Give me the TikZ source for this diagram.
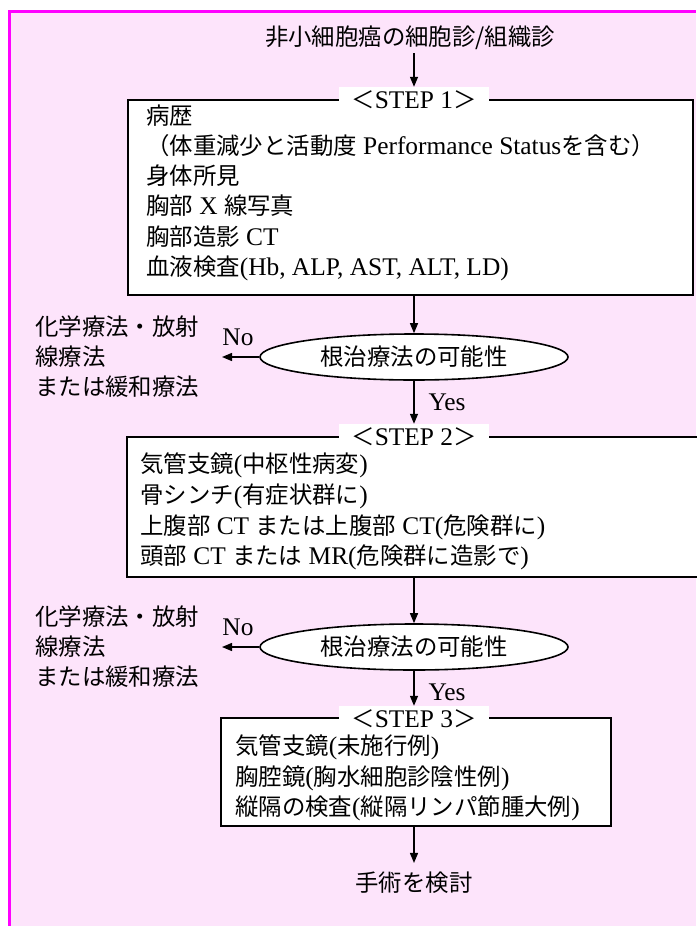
\documentclass[tikz,border=0pt]{standalone}
\usepackage{fontspec}
\setmainfont{Liberation Serif}
\newfontfamily\jpfont{Noto Sans CJK JP}
\newcommand\J[1]{{\jpfont\fontsize{23.4}{30}\selectfont #1}}
\usetikzlibrary{arrows.meta,shapes.geometric}
\definecolor{bgpink}{HTML}{FDE4FB}
\definecolor{framemag}{HTML}{FF00FF}
\begin{document}
\begin{tikzpicture}[x=1pt,y=-1pt,
  every node/.style={font=\fontsize{25.4}{30}\selectfont, inner sep=0pt},
  box/.style={draw=black, line width=1.6pt, fill=white},
  lbl/.style={fill=white, inner xsep=12pt, inner ysep=1pt, minimum height=26pt},
  ln/.style={anchor=west},
  arr/.style={line width=1.3pt, -{Triangle[length=10pt,width=8pt]}},
  dec/.style={ellipse, draw, line width=1.6pt, fill=white, minimum width=308pt, minimum height=46pt}]
\useasboundingbox (0,0) rectangle (696,926);
\fill[bgpink] (8,10) rectangle (696,926);
\draw[framemag, line width=3pt] (9.5,926) -- (9.5,11.5) -- (696,11.5);

% top
\node (top) at (410,38) {\J{非小細胞癌の細胞診/組織診}};

% STEP 1
\node[box, minimum width=565pt, minimum height=195pt] (s1) at (410.5,197.5) {};
\node[lbl] (l1) at (414,100) {\J{＜}STEP 1\J{＞}};
\node[ln] (a1) at (146,116) {\J{病歴}};
\node[ln] (a2) at (146,146) {\J{（体重減少と活動度} Performance Status\J{を含む）}};
\node[ln] (a3) at (146,176) {\J{身体所見}};
\node[ln] (a4) at (146,206) {\J{胸部} X \J{線写真}};
\node[ln] (a5) at (146,237) {\J{胸部造影} CT};
\node[ln] (a6) at (146,268) {\J{血液検査}(Hb, ALP, AST, ALT, LD)};

% decision 1
\node[dec] (e1) at (414,357) {\J{根治療法の可能性}};
\coordinate (n1end) at (222,357);
\node[anchor=west, align=left] (t1) at (35,357) {\J{化学療法・放射}\\\J{線療法}\\\J{または緩和療法}};
\node (no1) at (238,337) {No};
\node (yes1) at (447,402) {Yes};

% STEP 2
\node[box, minimum width=575pt, minimum height=140pt] (s2) at (414.5,507) {};
\node[lbl] (l2) at (414,437) {\J{＜}STEP 2\J{＞}};
\node[ln] (b1) at (140,465) {\J{気管支鏡}(\J{中枢性病変})};
\node[ln] (b2) at (140,496) {\J{骨シンチ}(\J{有症状群に})};
\node[ln] (b3) at (140,527) {\J{上腹部} CT \J{または上腹部} CT(\J{危険群に})};
\node[ln] (b4) at (140,557) {\J{頭部} CT \J{または} MR(\J{危険群に造影で})};

% decision 2
\node[dec] (e2) at (414,647) {\J{根治療法の可能性}};
\coordinate (n2end) at (222,647);
\node[anchor=west, align=left] (t2) at (35,647) {\J{化学療法・放射}\\\J{線療法}\\\J{または緩和療法}};
\node (no2) at (238,627) {No};
\node (yes2) at (447,692) {Yes};

% STEP 3
\node[box, minimum width=390pt, minimum height=108pt] (s3) at (416,772) {};
\node[lbl] (l3) at (414,719) {\J{＜}STEP 3\J{＞}};
\node[ln] (c1) at (235,747) {\J{気管支鏡}(\J{未施行例})};
\node[ln] (c2) at (235,778) {\J{胸腔鏡}(\J{胸水細胞診陰性例})};
\node[ln] (c3) at (235,808) {\J{縦隔の検査}(\J{縦隔リンパ節腫大例})};

% end
\node (fin) at (414,883) {\J{手術を検討}};

% connectors
\draw[arr] (top.south -| l1.north) ++(0,3) -- (l1.north);
\draw[arr] (s1.south -| e1.north) -- (e1.north);
\draw[arr] (e1.west) -- (n1end);
\draw[arr] (e1.south) -- (l2.north);
\draw[arr] (s2.south -| e2.north) -- (e2.north);
\draw[arr] (e2.west) -- (n2end);
\draw[arr] (e2.south) -- (l3.north);
\draw[arr] (s3.south -| fin.north) -- ([yshift=9pt]fin.north);
\end{tikzpicture}
\end{document}
